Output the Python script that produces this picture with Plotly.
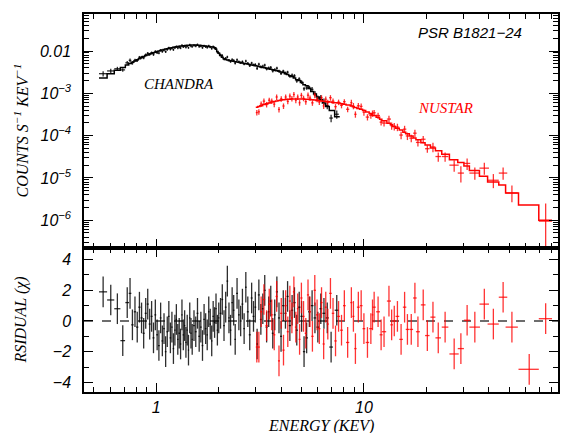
import plotly.graph_objects as go
from plotly.subplots import make_subplots

# ---------------- Chandra (black) ----------------
ch_e = [0.555, 0.604, 0.65, 0.69, 0.725, 0.748, 0.768,
        0.79, 0.81, 0.83, 0.85, 0.87, 0.89, 0.91, 0.93, 0.95, 0.97, 0.99,
        1.01, 1.03, 1.05, 1.07, 1.09, 1.11, 1.13, 1.15, 1.17, 1.19, 1.21, 1.23, 1.25, 1.27,
        1.29, 1.31, 1.33, 1.35, 1.37, 1.39, 1.41, 1.43, 1.45, 1.47, 1.49, 1.52, 1.55, 1.58,
        1.61, 1.64, 1.67, 1.70, 1.73, 1.76, 1.79, 1.82, 1.85, 1.88, 1.91, 1.94, 1.97, 2.00,
        2.04, 2.08, 2.12, 2.16, 2.20, 2.24, 2.28, 2.32, 2.36, 2.40, 2.45, 2.50, 2.55, 2.60,
        2.65, 2.70, 2.76, 2.82, 2.88, 2.94, 3.00, 3.06, 3.12, 3.19, 3.26, 3.33, 3.40, 3.48,
        3.56, 3.64, 3.72, 3.81, 3.90, 3.99, 4.09, 4.19, 4.29, 4.40, 4.51, 4.63, 4.75, 4.88,
        5.01, 5.15, 5.30, 5.46, 5.63, 5.81, 6.00, 6.20, 6.42, 6.66, 6.95, 7.40]
ch_de = ([0.025, 0.024, 0.022, 0.018, 0.015, 0.011, 0.010] + [0.010] * 11 + [0.010] * 25
         + [0.015] * 17 + [0.020] * 10 + [0.025] * 6 + [0.030] * 6 + [0.035] * 4
         + [0.040] * 5 + [0.045] * 3 + [0.050] * 3 + [0.055, 0.055, 0.060, 0.060, 0.065, 0.065,
         0.065, 0.075, 0.075, 0.085, 0.085, 0.095, 0.095, 0.11, 0.12, 0.14, 0.17, 0.25])
ch_model = [2.3e-3, 2.9e-3, 3.5e-3, 4.1e-3, 4.7e-3, 5.1e-3, 5.4e-3,
            5.8e-3, 6.2e-3, 6.6e-3, 7.0e-3, 7.4e-3, 7.8e-3, 8.1e-3, 8.5e-3, 8.8e-3, 9.1e-3, 9.4e-3,
            9.7e-3, 0.0100, 0.0103, 0.0106, 0.0108, 0.0111, 0.0113, 0.0116, 0.0118, 0.0120, 0.0122,
            0.0124, 0.0126, 0.0128, 0.0129, 0.0131, 0.0132, 0.0133, 0.0134, 0.0135, 0.0136, 0.0137,
            0.0137, 0.0138, 0.0138, 0.0138, 0.0138, 0.0137, 0.0136, 0.0135, 0.0134, 0.0132, 0.0131,
            0.0129, 0.0127, 0.0126, 0.0125, 0.0124, 0.0120, 0.0110, 0.0098, 0.0088,
            0.0078, 0.0071, 0.0066, 0.0063, 0.0061, 0.0060, 0.0059, 0.0058, 0.0057, 0.0056, 0.0055,
            0.0054, 0.0053, 0.0052, 0.0051, 0.0050, 0.0049, 0.0048, 0.0047, 0.0046, 0.0045, 0.0044,
            0.0043, 0.0042, 0.0041, 0.0040, 0.0039, 0.0038, 0.0037, 0.0036, 0.0035, 0.0034, 0.0033,
            0.0032, 0.0031, 0.0029, 0.0028, 0.0026, 0.0025, 0.0023, 0.0021, 0.0020, 0.0018, 0.0016,
            0.0015, 0.0013, 0.0011, 0.00096, 0.00082, 0.00070, 0.00059, 0.00049, 0.00039, 0.00028]
ch_flux = [2.91e-3, 3.38e-3, 3.81e-3, 3.58e-3, 5.26e-3, 6.02e-3, 5.27e-3,
           6.08e-3, 6.00e-3, 7.08e-3, 7.11e-3, 6.93e-3, 8.11e-3, 8.81e-3, 8.36e-3, 9.01e-3, 8.30e-3, 9.70e-3,
           9.13e-3, 8.96e-3, 0.01043, 9.70e-3, 0.01045, 9.66e-3, 0.01079, 0.01183, 0.01096, 0.01169,
           0.01077, 0.01192, 0.01268, 0.01180, 0.01223, 0.01182, 0.01354, 0.01252, 0.01314, 0.01227,
           0.01307, 0.01201, 0.01388, 0.01308, 0.01272, 0.01353, 0.01317, 0.01415, 0.01272, 0.01315,
           0.01201, 0.01329, 0.01267, 0.01215, 0.01320, 0.01244, 0.01144, 0.01264, 0.01192, 0.01157,
           9.42e-3, 8.91e-3,
           8.07e-3, 7.80e-3, 6.46e-3, 6.70e-3, 7.21e-3, 6.08e-3, 5.65e-3, 6.29e-3, 5.98e-3, 5.13e-3,
           6.19e-3, 5.55e-3, 5.30e-3, 5.60e-3, 4.92e-3, 5.77e-3, 5.11e-3, 4.50e-3, 5.19e-3, 4.70e-3,
           4.78e-3, 3.87e-3, 4.88e-3, 4.23e-3, 4.36e-3, 4.64e-3, 3.78e-3, 3.98e-3, 4.08e-3, 3.37e-3,
           3.61e-3, 3.92e-3, 3.35e-3, 2.94e-3, 3.35e-3, 3.02e-3, 3.16e-3, 2.54e-3, 2.68e-3, 2.58e-3,
           1.97e-3, 2.18e-3, 1.85e-3, 1.28e-3, 1.34e-3, 1.38e-3, 1.24e-3, 9.9e-4, 7.7e-4, 7.9e-4,
           6.4e-4, 5.1e-4, 2.6e-4, 3.2e-4]
ch_relerr = ([0.14, 0.12, 0.11, 0.10, 0.10, 0.10, 0.10] + [0.08] * 11 + [0.065] * 42
             + [0.07] * 21 + [0.08] * 17 + [0.10] * 8
             + [0.13, 0.14, 0.15, 0.16, 0.17, 0.18, 0.20, 0.22])
ch_resid = [1.9, 1.37, 0.8, -1.28, 1.2, 1.8, -0.25,
            0.6, -0.4, 0.9, 0.2, -0.8, 0.5, 1.1, -0.2, 0.3, -1.1, 0.4,
            -0.9, -1.6, 0.2, -1.3, -0.5, -2.0, -0.7, 0.3, -1.1, -0.4, -1.8, -0.6, 0.1, -1.2,
            -0.8, -1.5, 0.4, -0.9, -0.3, -1.4, -0.6, -1.9, 0.2, -0.8, -1.2, -0.3, -0.7, 0.5,
            -1.0, -0.4, -1.6, 0.1, -0.5, -0.9, 0.6, -0.2, -1.3, 0.3, -0.1, 0.8, -0.6, 0.2,
            0.5, 1.4, -0.3, 0.9, 2.6, 0.2, -0.6, 1.2, 0.7, -1.2, 1.8, 0.4, 0.0, 1.1,
            -0.5, 2.2, 0.6, -0.9, 1.5, 0.3, 0.9, -1.5, 1.7, 0.1, 0.8, 2.0, -0.4, 0.6,
            1.3, -0.8, 0.4, 1.9, 0.2, -1.0, 1.0, 0.5, 1.6, -0.3, 0.7, 1.2, -0.6, 0.9,
            0.3, -2.0, -1.1, 0.6, 1.0, 0.2, -0.4, 0.8, 0.5, 0.2, -1.7, 0.7]

# ---------------- NuSTAR (red) ----------------
nu_e = [3.05, 3.12, 3.2, 3.3, 3.4, 3.5, 3.6, 3.7, 3.8, 3.9, 4.0, 4.1, 4.2, 4.3, 4.4, 4.5,
        4.6, 4.7, 4.8, 4.9, 5.0, 5.12, 5.25, 5.38, 5.5, 5.65, 5.8, 5.95, 6.1, 6.25, 6.4,
        6.55, 6.7, 6.9, 7.1, 7.3, 7.55, 7.8, 8.05, 8.35,
        8.7, 8.9, 9.1, 9.4, 9.7, 10.0, 10.4, 10.8, 11.0, 11.2, 11.7, 12.1, 12.5, 13.2, 13.6,
        14.0, 14.5, 15.1, 15.7, 16.2, 16.9, 17.6, 18.2, 19.3, 20.2, 21.5, 22.8, 24.6, 27.2,
        29.3, 31.4, 34.2, 38.0, 42.0, 46.8, 51.6, 62.5, 75.0]
nu_de = ([0.035, 0.035] + [0.045] * 8 + [0.05] * 10
         + [0.06, 0.06, 0.065, 0.065, 0.065, 0.075, 0.075, 0.075, 0.075, 0.075,
            0.075, 0.075, 0.08, 0.1, 0.1, 0.1, 0.12, 0.12, 0.12, 0.15]
         + [0.1, 0.1, 0.12, 0.15, 0.15, 0.15, 0.2, 0.2, 0.1, 0.2, 0.25, 0.2, 0.3, 0.3, 0.2,
            0.25, 0.3, 0.3, 0.3, 0.3, 0.35, 0.35, 0.4, 0.5, 0.5, 0.6, 0.7, 0.9, 1.4, 1.0,
            1.1, 2.0, 2.0, 2.6, 2.2, 3.5, 7.0, 5.5])
nu_model = [4.7e-4, 4.9e-4, 5.1e-4, 5.4e-4, 5.7e-4, 5.9e-4, 6.2e-4, 6.4e-4, 6.6e-4, 6.8e-4,
            6.9e-4, 7.0e-4, 7.1e-4, 7.2e-4, 7.2e-4, 7.3e-4, 7.3e-4, 7.3e-4, 7.3e-4, 7.3e-4,
            7.3e-4, 7.3e-4, 7.2e-4, 7.2e-4, 7.1e-4, 7.0e-4, 6.9e-4, 6.8e-4, 6.7e-4, 6.6e-4,
            6.5e-4, 6.4e-4, 6.3e-4, 6.2e-4, 6.1e-4, 6.0e-4, 5.9e-4, 5.7e-4, 5.5e-4, 5.3e-4,
            5.0e-4, 4.8e-4, 4.6e-4, 4.4e-4, 4.2e-4, 3.9e-4, 3.6e-4, 3.3e-4, 3.15e-4, 3.0e-4,
            2.7e-4, 2.45e-4, 2.25e-4, 1.95e-4, 1.8e-4, 1.65e-4, 1.5e-4, 1.35e-4, 1.2e-4, 1.1e-4,
            9.8e-5, 8.8e-5, 8.0e-5, 6.8e-5, 6.0e-5, 5.1e-5, 4.4e-5, 3.6e-5, 2.7e-5, 2.3e-5,
            1.9e-5, 1.5e-5, 1.1e-5, 8.0e-6, 6.8e-6, 4.4e-6, 2.3e-6, 1.0e-6]
nu_flux = [3.50e-4, 3.65e-4, 5.56e-4, 6.53e-4, 5.44e-4, 6.87e-4, 6.57e-4, 5.54e-4, 8.18e-4, 4.15e-4,
           7.42e-4, 5.01e-4, 8.17e-4, 6.44e-4, 8.60e-4, 7.52e-4, 9.38e-4, 6.86e-4, 8.18e-4, 5.99e-4,
           8.94e-4, 7.63e-4, 6.34e-4, 9.04e-4, 7.74e-4, 5.95e-4, 8.97e-4, 7.21e-4, 6.20e-4, 7.79e-4,
           5.04e-4, 7.26e-4, 6.11e-4, 7.87e-4, 6.56e-4, 4.83e-4, 6.17e-4, 5.19e-4, 6.33e-4, 4.19e-4,
           6.02e-4, 5.04e-4, 3.19e-4, 5.07e-4, 4.91e-4, 3.57e-4, 2.74e-4, 3.02e-4, 3.36e-4, 3.46e-4,
           2.98e-4, 2.08e-4, 1.98e-4, 2.46e-4, 1.71e-4, 1.65e-4, 1.59e-4, 1.03e-4, 1.42e-4, 9.8e-5,
           8.7e-5, 1.14e-4, 6.9e-5, 8.2e-5, 4.9e-5, 5.4e-5, 3.2e-5, 3.2e-5, 2.0e-5, 1.3e-5,
           2.2e-5, 1.3e-5, 1.7e-5, 8.8e-6, 1.3e-5, 4.4e-6, None, 9.5e-7]
nu_relerr_up = ([0.15] * 40 + [0.17] * 13 + [0.2] * 12 + [0.25] * 3
                + [0.3, 0.45, 0.3, 0.35, 0.35, 0.4, 0.35, 0.5, 0.6, 1.6])
nu_relerr_dn = ([0.15] * 40 + [0.17] * 13 + [0.2] * 12 + [0.25] * 3
                + [0.3, 0.4, 0.3, 0.3, 0.3, 0.35, 0.3, 0.4, 0.6, 0.9])
nu_resid = [-1.7, -1.7, 0.6, 1.4, -0.3, 1.1, 0.4, -0.9, 1.6, -2.6, 0.5, -1.9, 1.0, -0.7, 1.3,
            0.2, 1.9, -0.4, 0.8, -1.2, 1.5, 0.3, -0.8, 1.7, 0.6, -1.0, 2.0, 0.4, -0.5, 1.2,
            -1.5, 0.9, -0.2, 1.8, 0.5, -1.3, 0.3, -0.6, 1.0, -1.4,
            1.2, 0.3, -1.8, 0.9, 1.0, -0.5, -1.4, -0.5, 0.4, 0.9, 0.6, -0.9, -0.7, 1.3, -0.25,
            0.0, 0.3, -1.2, 0.9, -0.55, -0.55, 1.5, -0.7, 1.05, -0.95, 0.25, -1.1, -0.4, -2.15,
            -1.8, 0.05, -0.4, 1.1, -0.2, 1.55, -0.4, -3.15, 0.15]

# axis tick labels
y_top_ticks = [1e-6, 1e-5, 1e-4, 1e-3, 0.01]
y_top_text = ["10<sup>\u22126</sup>", "10<sup>\u22125</sup>", "10<sup>\u22124</sup>",
              "10<sup>\u22123</sup>", "0.01"]
x_ticks = [1, 10]
x_text = ["1", "10"]
res_ticks = [-4, -2, 0, 2, 4]
res_text = ["\u22124", "\u22122", "0", "2", "4"]

# ---------------- derived (plot-ready) ----------------
ch_err = [f * r for f, r in zip(ch_flux, ch_relerr)]
nu_err_up = [(f * r if f is not None else 0) for f, r in zip(nu_flux, nu_relerr_up)]
nu_err_dn = [(f * r if f is not None else 0) for f, r in zip(nu_flux, nu_relerr_dn)]
nu_err_dn[-1] = nu_flux[-1] * 0.9

ch_step_x = [e - d for e, d in zip(ch_e, ch_de)] + [ch_e[-1] + ch_de[-1]]
ch_step_y = ch_model + [ch_model[-1]]
nu_step_x = [e - d for e, d in zip(nu_e, nu_de)] + [nu_e[-1] + nu_de[-1]]
nu_step_y = nu_model + [nu_model[-1]]

BLACK = "rgba(0,0,0,0.82)"
RED = "rgba(255,0,0,0.8)"
CLEAR = "rgba(0,0,0,0)"

fig = make_subplots(rows=2, cols=1, shared_xaxes=True, vertical_spacing=0,
                    row_heights=[0.619, 0.381])

def points(x, y, dx, color, ey=None, eyminus=None, const=False):
    if const:
        err_y = dict(type="constant", value=1, width=0, thickness=1.3, color=color)
    else:
        err_y = dict(type="data", array=ey, width=0, thickness=1.3, color=color)
        if eyminus is not None:
            err_y["arrayminus"] = eyminus
    return go.Scatter(x=x, y=y, mode="markers",
                      marker=dict(size=2, color=CLEAR, line=dict(width=0)),
                      error_x=dict(type="data", array=dx, width=0, thickness=1.3, color=color),
                      error_y=err_y, showlegend=False, hoverinfo="skip")

# top panel
fig.add_trace(points(ch_e, ch_flux, ch_de, BLACK, ch_err), row=1, col=1)
fig.add_trace(go.Scatter(x=ch_step_x, y=ch_step_y, mode="lines",
                         line=dict(shape="hv", color="black", width=1.5), showlegend=False),
              row=1, col=1)
fig.add_trace(points(nu_e, nu_flux, nu_de, RED, nu_err_up, nu_err_dn), row=1, col=1)
fig.add_trace(go.Scatter(x=nu_step_x, y=nu_step_y, mode="lines",
                         line=dict(shape="hv", color="red", width=1.5), showlegend=False),
              row=1, col=1)

# residual panel
fig.add_trace(points(ch_e, ch_resid, ch_de, BLACK, const=True), row=2, col=1)
fig.add_trace(points(nu_e, nu_resid, nu_de, RED, const=True), row=2, col=1)

fig.add_shape(type="line", xref="x2 domain", yref="y2", x0=0, x1=1, y0=0, y1=0,
              line=dict(color="rgba(40,40,40,0.9)", width=1.4, dash="dash"), layer="below")

x_minor = [0.5, 0.6, 0.7, 0.8, 0.9, 2, 3, 4, 5, 6, 7, 8, 9, 20, 30, 40, 50, 60, 70, 80]
y_minor = [m * 10.0 ** k for k in range(-7, 0) for m in range(2, 10)]

tickfont = dict(family="Liberation Sans", size=16, color="black", style="italic")
axis_common = dict(showline=True, linecolor="black", linewidth=1.5, mirror="ticks",
                   ticks="inside", tickcolor="black", tickwidth=1, showgrid=False, zeroline=False)

fig.update_xaxes(type="log", range=[-0.3478, 1.9345], tickmode="array", tickvals=x_ticks,
                 ticktext=x_text, ticklen=9,
                 minor=dict(tickmode="array", tickvals=x_minor, ticks="inside", ticklen=5,
                            tickcolor="black", showgrid=False),
                 **axis_common)
fig.update_xaxes(showticklabels=False, row=1, col=1)
fig.update_xaxes(showticklabels=True, tickfont=tickfont, ticklabelstandoff=0, row=2, col=1)

fig.update_yaxes(type="log", range=[-6.657, -1.125], tickmode="array", tickvals=y_top_ticks,
                 ticktext=y_top_text, ticklen=9, tickfont=tickfont, ticklabelstandoff=8,
                 minor=dict(tickmode="array", tickvals=y_minor, ticks="inside", ticklen=5,
                            tickcolor="black", showgrid=False),
                 row=1, col=1, **axis_common)
fig.update_yaxes(range=[-4.63, 4.76], tickmode="array", tickvals=res_ticks, ticktext=res_text,
                 ticklen=9, tickfont=tickfont, ticklabelstandoff=8,
                 minor=dict(tickmode="array", tickvals=[-3, -1, 1, 3], ticks="inside", ticklen=5,
                            tickcolor="black", showgrid=False),
                 row=2, col=1, **axis_common)

serif = dict(family="Liberation Serif", size=16, color="black", style="italic")
ann = [
    dict(text="COUNTS S<sup>\u22121</sup> KEV<sup>\u22121</sup>", x=-0.132, y=0.693, textangle=-90),
    dict(text="RSIDUAL (\u03c7)", x=-0.132, y=0.19, textangle=-90),
    dict(text="ENERGY (KEV)", x=0.5, y=-0.089, textangle=0),
]
for a in ann:
    fig.add_annotation(xref="paper", yref="paper", showarrow=False, font=serif,
                       xanchor="center", yanchor="middle", **a)
fig.add_annotation(text="PSR B1821\u221224", xref="paper", yref="paper", x=0.815, y=0.950,
                   showarrow=False, xanchor="center", yanchor="middle",
                   font=dict(family="Liberation Sans", size=15, color="black", style="italic"))
fig.add_annotation(text="CHANDRA", xref="paper", yref="paper", x=0.20, y=0.815,
                   showarrow=False, xanchor="center", yanchor="middle",
                   font=dict(family="Liberation Serif", size=15, color="black", style="italic"))
fig.add_annotation(text="NUSTAR", xref="paper", yref="paper", x=0.762, y=0.751,
                   showarrow=False, xanchor="center", yanchor="middle",
                   font=dict(family="Liberation Serif", size=15, color="red", style="italic"))

fig.update_layout(width=563, height=433, margin=dict(l=84, r=3, t=14, b=41),
                  paper_bgcolor="white", plot_bgcolor="white", showlegend=False)

fig.write_html("out.html")
